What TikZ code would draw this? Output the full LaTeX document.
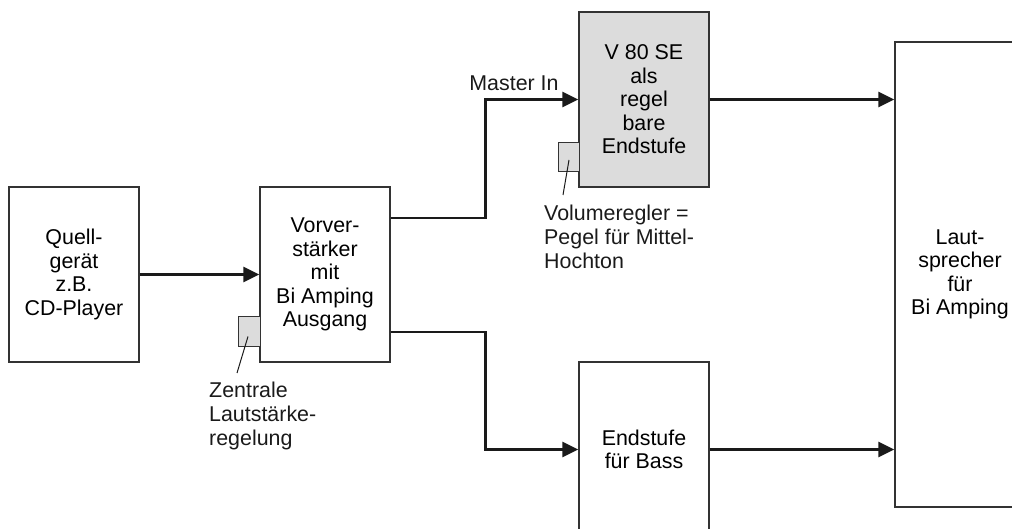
\documentclass[tikz,border=0pt]{standalone}
\usepackage{fontspec}
\setmainfont{Liberation Sans}
\usepackage{xcolor}
\usepackage{tikz}
\usetikzlibrary{arrows.meta,positioning,calc}
\definecolor{rim}{HTML}{333333}
\definecolor{ink}{HTML}{1A1A1A}
\definecolor{knobgray}{HTML}{DCDCDC}
\tikzset{
  unit/.style={rectangle, draw=rim, fill=white, line width=1.3pt, align=center,
               minimum width=130pt, minimum height=175pt, inner sep=0pt,
               font=\fontsize{21.4}{23.5}\selectfont},
  amp/.style={unit, fill=knobgray},
  knob/.style={rectangle, draw=rim, fill=knobgray, line width=1pt, inner sep=0pt},
  note/.style={align=left, inner sep=0pt, text=ink, font=\fontsize{21.4}{23.8}\selectfont},
  signal/.style={-{Triangle[length=16pt,width=15pt]}, draw=ink, line width=2.8pt},
  pointer/.style={draw=ink, line width=1pt},
}
\begin{document}
\begin{tikzpicture}[x=1pt, y=-1pt]
\clip (0,0) rectangle (1012,529);
\useasboundingbox (0,0) rectangle (1012,529);
% units
\node[unit] (quell) at (74,274.5) {Quell-\\gerät\\z.B.\\CD-Player};
\node[unit] (vor) at (325,274.5) {Vorver-\\stärker\\mit\\Bi Amping\\Ausgang};
\node[amp] (v80) at (644,99.5) {V 80 SE\\als\\regel\\bare\\Endstufe};
\node[unit] (bass) at (644,449.5) {Endstufe\\für Bass};
\node[unit, minimum height=465pt] (laut) at (960,274.5) {Laut-\\sprecher\\für\\Bi Amping};
% knobs
\node[knob, minimum width=22pt, minimum height=29pt] (knobvor) at (249,331.5) {};
\node[knob, minimum width=21pt, minimum height=29pt] (knobv80) at (568.5,157.5) {};
% notes
\node[note, anchor=west] (zentral) at (209,416) {Zentrale\\Lautstärke-\\regelung};
\node[note, anchor=west] (volume) at (544,237) {Volumeregler =\\Pegel für Mittel-\\Hochton};
\node[note] (master) at (514,83) {Master In};
\coordinate (zentraltip) at (237,373);
\coordinate (volumetip) at (563,195);
% signal flow
\draw[signal] (quell) -- (vor);
\draw[signal] ($(vor.east)+(0,-56.5)$) -- ++(95,0) |- (v80.west);
\draw[signal] ($(vor.east)+(0,57.5)$) -- ++(95,0) |- (bass.west);
\draw[signal] (v80.east) -- (v80.east -| laut.west);
\draw[signal] (bass.east) -- (bass.east -| laut.west);
% pointers
\draw[pointer] ($(knobvor.center)+(-1,5)$) -- (zentraltip);
\draw[pointer] ($(knobv80.center)+(0.5,2.5)$) -- (volumetip);
\end{tikzpicture}
\end{document}
